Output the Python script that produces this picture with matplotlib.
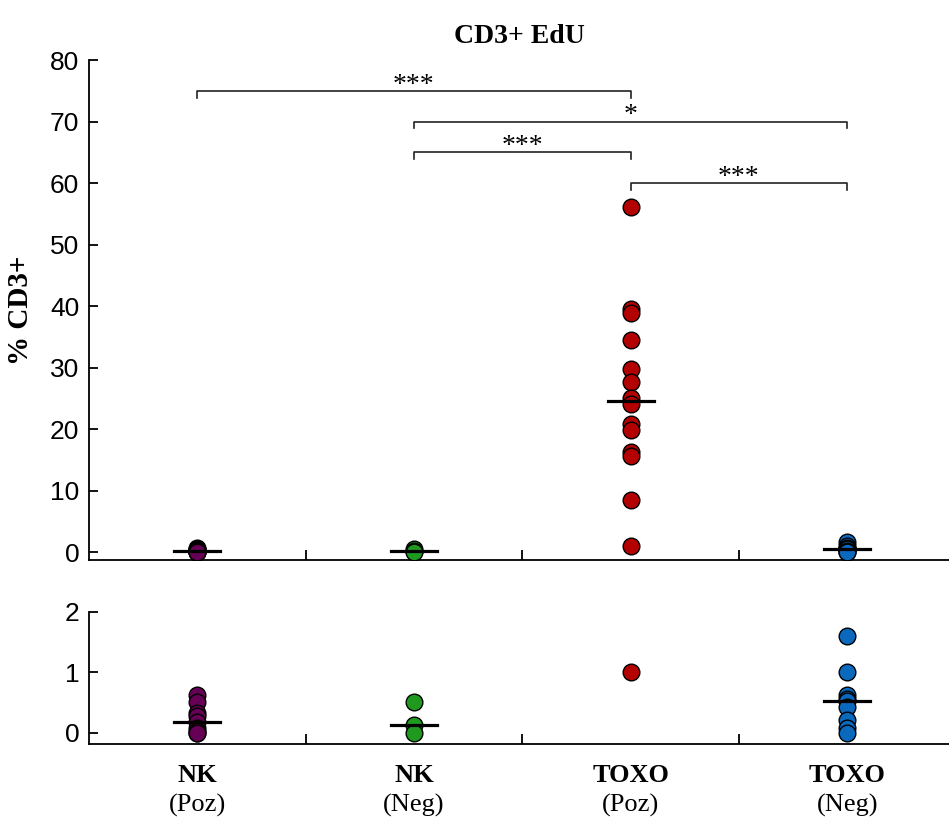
import numpy as np
import matplotlib
matplotlib.use("Agg")
import matplotlib.pyplot as plt
from matplotlib.transforms import blended_transform_factory

# grupe i podaci (% CD3+ EdU)
groups = ["NK", "NK", "TOXO", "TOXO"]
subgroups = ["(Poz)", "(Neg)", "(Poz)", "(Neg)"]
colors = ["#660055", "#1f9a1f", "#b30000", "#0a68bd"]

nk_poz = [0.62, 0.5, 0.33, 0.28, 0.18, 0.08, 0.03, 0.0, 0.0]
nk_neg = [0.5, 0.13, 0.0]
toxo_poz = [56.1, 39.5, 38.9, 34.5, 29.8, 27.6, 25.1, 24.0, 20.8, 19.8, 16.3, 15.6, 8.4, 1.0]
toxo_neg = [1.6, 1.0, 0.62, 0.56, 0.52, 0.42, 0.2, 0.08, 0.0]
data = [nk_poz, nk_neg, toxo_poz, toxo_neg]

# usporedbe: (grupa1, grupa2, visina, oznaka)
comp_a = [0, 1, 1, 2]
comp_b = [2, 3, 2, 3]
comp_y = [75, 70, 65, 60]
comp_txt = ["***", "*", "***", "***"]

serif = ["Liberation Serif", "DejaVu Serif"]
narrow = ["Liberation Sans Narrow", "Liberation Sans", "DejaVu Sans"]

fig = plt.figure(figsize=(9.49, 8.21), dpi=100)
ax1 = fig.add_axes([0.0938, 0.3179, 0.9062, 0.6090])
ax2 = fig.add_axes([0.0938, 0.0938, 0.9062, 0.1608])

x = np.arange(len(data))
for ax in (ax1, ax2):
    for i, vals in enumerate(data):
        ax.plot([x[i]] * len(vals), vals, "o", ms=12, mfc=colors[i], mec="black",
                mew=1.0, zorder=3)
        med = np.median(vals)
        ax.plot([x[i] - 0.106, x[i] + 0.106], [med, med], color="black", lw=2.3, zorder=4)
    ax.set_xlim(-0.5, 3.47)
    ax.spines["top"].set_visible(False)
    ax.spines["right"].set_visible(False)
    for s in ("left", "bottom"):
        ax.spines[s].set_linewidth(1.3)
    ax.set_xticks(x[:-1] + 0.5)
    ax.set_xticklabels([])
    ax.tick_params(axis="x", direction="in", length=7, width=1.3)
    ax.tick_params(axis="y", direction="in", length=6.5, width=1.3, pad=7)

ax1.set_ylim(-1.3, 80)
ax1.set_yticks(np.arange(0, 81, 10))
ax2.set_ylim(-0.19, 2)
ax2.set_yticks([0, 1, 2])
for ax in (ax1, ax2):
    for lab in ax.get_yticklabels():
        lab.set_family(narrow)
        lab.set_fontsize(19)

# zagrade za značajnost
for a, b, y, t in zip(comp_a, comp_b, comp_y, comp_txt):
    ax1.plot([x[a], x[a], x[b], x[b]], [y - 1.1, y, y, y - 1.1], color="#222222", lw=1.2,
             clip_on=False)
    ax1.text((x[a] + x[b]) / 2, y - 1.1, t, ha="center", va="bottom", fontsize=20,
             family=serif)

ax1.set_title("CD3+ EdU", fontsize=20, fontweight="bold", family=serif, pad=12)
ax1.set_ylabel("% CD3+", fontsize=21, fontweight="bold", family=serif)
ax1.yaxis.set_label_coords(-0.064, 0.5)

trans = blended_transform_factory(ax2.transData, fig.transFigure)
for i in range(len(groups)):
    ax2.text(x[i], 0.056, groups[i], transform=trans, ha="center", va="center",
             fontsize=19, fontweight="bold", family=serif)
    ax2.text(x[i], 0.0195, subgroups[i], transform=trans, ha="center", va="center",
             fontsize=19, family=serif)

fig.savefig("out.png", dpi=100)
